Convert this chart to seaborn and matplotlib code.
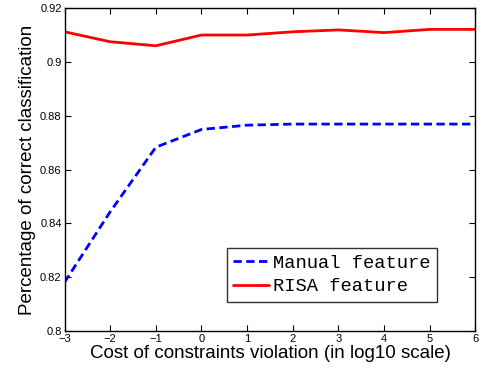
import matplotlib
matplotlib.use("Agg")
import matplotlib.pyplot as plt
import pandas as pd
import seaborn as sns

cost_log10 = [-3, -2, -1, 0, 1, 2, 3, 4, 5, 6]
manual_feature = [0.8181, 0.8443, 0.8683, 0.8749, 0.8765, 0.8769, 0.8769, 0.8769, 0.8769, 0.8769]
risa_feature = [0.9112, 0.9075, 0.9060, 0.9100, 0.9100, 0.9112, 0.9119, 0.9109, 0.9121, 0.9121]
series_names = ["Manual feature", "RISA feature"]

sns.set_style("ticks")
plt.rcParams["font.family"] = ["Liberation Sans", "DejaVu Sans"]
plt.rcParams["text.color"] = "black"
plt.rcParams["axes.labelcolor"] = "black"
plt.rcParams["xtick.color"] = "black"
plt.rcParams["ytick.color"] = "black"

df = pd.DataFrame({
    "cost": cost_log10 * 2,
    "accuracy": manual_feature + risa_feature,
    "feature": [series_names[0]] * len(cost_log10) + [series_names[1]] * len(cost_log10),
})

fig = plt.figure(figsize=(4.84, 3.69), dpi=100)
ax = fig.add_axes([0.1333, 0.1030, 0.849, 0.875])
sns.lineplot(
    data=df, x="cost", y="accuracy", hue="feature", style="feature",
    palette={series_names[0]: "#0000ff", series_names[1]: "#ff0000"},
    dashes={series_names[0]: (3, 1.6), series_names[1]: ""},
    linewidth=2, ax=ax,
)

ax.set_xlim(-3, 6)
ax.set_ylim(0.8, 0.92)
ax.set_xticks(cost_log10)
ax.set_xticklabels(["\u22123", "\u22122", "\u22121", "0", "1", "2", "3", "4", "5", "6"])
ax.set_yticks([0.8, 0.82, 0.84, 0.86, 0.88, 0.9, 0.92])
ax.set_yticklabels(["0.8", "0.82", "0.84", "0.86", "0.88", "0.9", "0.92"])
ax.tick_params(direction="in", length=4, width=0.8, labelsize=8, top=True, right=True, pad=2)
for spine in ax.spines.values():
    spine.set_visible(True)
    spine.set_linewidth(1)
    spine.set_color("black")

ax.set_xlabel("Cost of constraints violation (in log10 scale)", fontsize=13.5, labelpad=1)
ax.set_ylabel("Percentage of correct classification", fontsize=13.5, labelpad=3)

leg = ax.legend(
    loc="lower right", bbox_to_anchor=(0.906, 0.09), frameon=True, fancybox=False,
    edgecolor="black", prop={"family": "Liberation Mono", "size": 13.5},
    handlelength=1.9, borderpad=0.35, labelspacing=0.35, handletextpad=0.2,
    borderaxespad=0,
)
leg.get_frame().set_linewidth(1)

fig.savefig("out.png", dpi=100)
